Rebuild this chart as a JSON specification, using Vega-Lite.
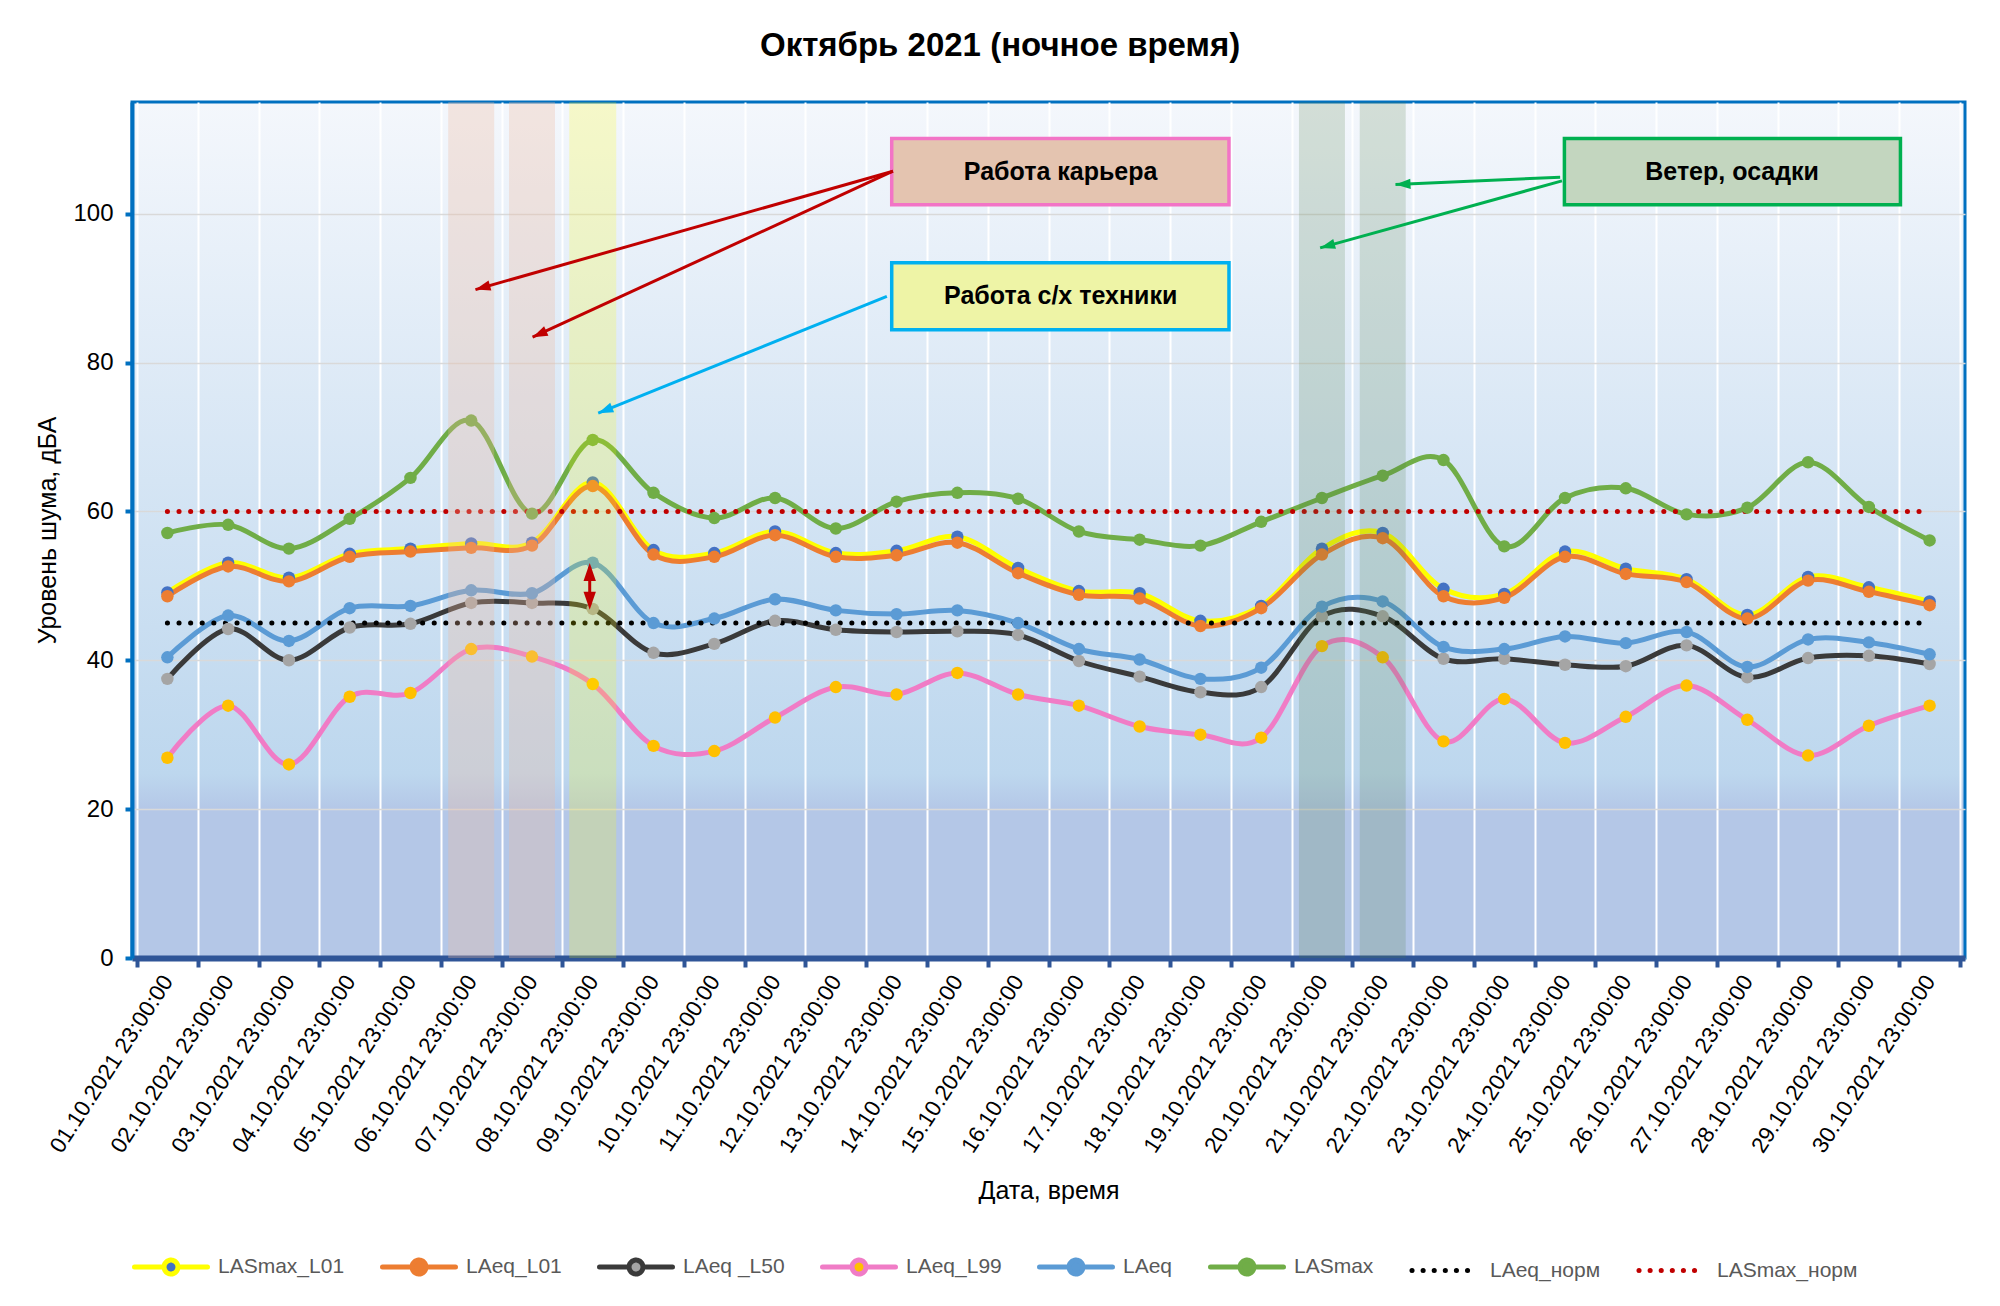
{
  "$schema": "https://vega.github.io/schema/vega-lite/v6.json",
  "width": 1833,
  "height": 856,
  "padding": {"left": 35, "top": 30, "right": 30, "bottom": 10},
  "background": "white",
  "view": {
    "fill": {
      "gradient": "linear", "x1": 0, "y1": 0, "x2": 0, "y2": 1,
      "stops": [
        {"offset": 0, "color": "#F4F7FC"},
        {"offset": 0.785, "color": "#BDD7EE"},
        {"offset": 0.827, "color": "#B4C7E7"},
        {"offset": 1, "color": "#B4C7E7"}
      ]
    },
    "stroke": "#0070C0",
    "strokeWidth": 3
  },
  "config": {
    "font": "Liberation Sans"
  },
  "title": {
    "text": "Октябрь 2021 (ночное время)",
    "fontSize": 33,
    "fontWeight": "bold",
    "color": "#000000",
    "anchor": "middle",
    "frame": "bounds",
    "dx": -18,
    "offset": 39
  },
  "datasets": {
    "levels": [
      {"day": 1, "series": "LASmax_L01", "value": 49.1},
      {"day": 2, "series": "LASmax_L01", "value": 53.1},
      {"day": 3, "series": "LASmax_L01", "value": 51.1},
      {"day": 4, "series": "LASmax_L01", "value": 54.3},
      {"day": 5, "series": "LASmax_L01", "value": 55.0},
      {"day": 6, "series": "LASmax_L01", "value": 55.7},
      {"day": 7, "series": "LASmax_L01", "value": 55.8},
      {"day": 8, "series": "LASmax_L01", "value": 63.9},
      {"day": 9, "series": "LASmax_L01", "value": 54.8},
      {"day": 10, "series": "LASmax_L01", "value": 54.4},
      {"day": 11, "series": "LASmax_L01", "value": 57.3},
      {"day": 12, "series": "LASmax_L01", "value": 54.4},
      {"day": 13, "series": "LASmax_L01", "value": 54.7},
      {"day": 14, "series": "LASmax_L01", "value": 56.6},
      {"day": 15, "series": "LASmax_L01", "value": 52.4},
      {"day": 16, "series": "LASmax_L01", "value": 49.3},
      {"day": 17, "series": "LASmax_L01", "value": 49.0},
      {"day": 18, "series": "LASmax_L01", "value": 45.3},
      {"day": 19, "series": "LASmax_L01", "value": 47.3},
      {"day": 20, "series": "LASmax_L01", "value": 55.0},
      {"day": 21, "series": "LASmax_L01", "value": 57.1},
      {"day": 22, "series": "LASmax_L01", "value": 49.6},
      {"day": 23, "series": "LASmax_L01", "value": 48.9},
      {"day": 24, "series": "LASmax_L01", "value": 54.6},
      {"day": 25, "series": "LASmax_L01", "value": 52.3},
      {"day": 26, "series": "LASmax_L01", "value": 50.9},
      {"day": 27, "series": "LASmax_L01", "value": 46.1},
      {"day": 28, "series": "LASmax_L01", "value": 51.2},
      {"day": 29, "series": "LASmax_L01", "value": 49.8},
      {"day": 30, "series": "LASmax_L01", "value": 47.9},
      {"day": 1, "series": "LAeq_L01", "value": 48.6},
      {"day": 2, "series": "LAeq_L01", "value": 52.6},
      {"day": 3, "series": "LAeq_L01", "value": 50.6},
      {"day": 4, "series": "LAeq_L01", "value": 53.9},
      {"day": 5, "series": "LAeq_L01", "value": 54.6},
      {"day": 6, "series": "LAeq_L01", "value": 55.1},
      {"day": 7, "series": "LAeq_L01", "value": 55.4},
      {"day": 8, "series": "LAeq_L01", "value": 63.4},
      {"day": 9, "series": "LAeq_L01", "value": 54.2},
      {"day": 10, "series": "LAeq_L01", "value": 53.9},
      {"day": 11, "series": "LAeq_L01", "value": 56.8},
      {"day": 12, "series": "LAeq_L01", "value": 53.9},
      {"day": 13, "series": "LAeq_L01", "value": 54.1},
      {"day": 14, "series": "LAeq_L01", "value": 55.8},
      {"day": 15, "series": "LAeq_L01", "value": 51.7},
      {"day": 16, "series": "LAeq_L01", "value": 48.8},
      {"day": 17, "series": "LAeq_L01", "value": 48.3},
      {"day": 18, "series": "LAeq_L01", "value": 44.6},
      {"day": 19, "series": "LAeq_L01", "value": 47.0},
      {"day": 20, "series": "LAeq_L01", "value": 54.2},
      {"day": 21, "series": "LAeq_L01", "value": 56.4},
      {"day": 22, "series": "LAeq_L01", "value": 48.6},
      {"day": 23, "series": "LAeq_L01", "value": 48.4},
      {"day": 24, "series": "LAeq_L01", "value": 53.9},
      {"day": 25, "series": "LAeq_L01", "value": 51.6},
      {"day": 26, "series": "LAeq_L01", "value": 50.5},
      {"day": 27, "series": "LAeq_L01", "value": 45.6},
      {"day": 28, "series": "LAeq_L01", "value": 50.7},
      {"day": 29, "series": "LAeq_L01", "value": 49.2},
      {"day": 30, "series": "LAeq_L01", "value": 47.4},
      {"day": 1, "series": "LAeq _L50", "value": 37.5},
      {"day": 2, "series": "LAeq _L50", "value": 44.2},
      {"day": 3, "series": "LAeq _L50", "value": 40.0},
      {"day": 4, "series": "LAeq _L50", "value": 44.4},
      {"day": 5, "series": "LAeq _L50", "value": 44.9},
      {"day": 6, "series": "LAeq _L50", "value": 47.7},
      {"day": 7, "series": "LAeq _L50", "value": 47.7},
      {"day": 8, "series": "LAeq _L50", "value": 46.9},
      {"day": 9, "series": "LAeq _L50", "value": 41.0},
      {"day": 10, "series": "LAeq _L50", "value": 42.2},
      {"day": 11, "series": "LAeq _L50", "value": 45.3},
      {"day": 12, "series": "LAeq _L50", "value": 44.1},
      {"day": 13, "series": "LAeq _L50", "value": 43.8},
      {"day": 14, "series": "LAeq _L50", "value": 43.9},
      {"day": 15, "series": "LAeq _L50", "value": 43.4},
      {"day": 16, "series": "LAeq _L50", "value": 39.9},
      {"day": 17, "series": "LAeq _L50", "value": 37.8},
      {"day": 18, "series": "LAeq _L50", "value": 35.7},
      {"day": 19, "series": "LAeq _L50", "value": 36.4},
      {"day": 20, "series": "LAeq _L50", "value": 45.9},
      {"day": 21, "series": "LAeq _L50", "value": 45.9},
      {"day": 22, "series": "LAeq _L50", "value": 40.2},
      {"day": 23, "series": "LAeq _L50", "value": 40.2},
      {"day": 24, "series": "LAeq _L50", "value": 39.4},
      {"day": 25, "series": "LAeq _L50", "value": 39.2},
      {"day": 26, "series": "LAeq _L50", "value": 42.0},
      {"day": 27, "series": "LAeq _L50", "value": 37.7},
      {"day": 28, "series": "LAeq _L50", "value": 40.3},
      {"day": 29, "series": "LAeq _L50", "value": 40.6},
      {"day": 30, "series": "LAeq _L50", "value": 39.5},
      {"day": 1, "series": "LAeq_L99", "value": 26.9},
      {"day": 2, "series": "LAeq_L99", "value": 33.9},
      {"day": 3, "series": "LAeq_L99", "value": 26.0},
      {"day": 4, "series": "LAeq_L99", "value": 35.1},
      {"day": 5, "series": "LAeq_L99", "value": 35.6},
      {"day": 6, "series": "LAeq_L99", "value": 41.5},
      {"day": 7, "series": "LAeq_L99", "value": 40.5},
      {"day": 8, "series": "LAeq_L99", "value": 36.8},
      {"day": 9, "series": "LAeq_L99", "value": 28.5},
      {"day": 10, "series": "LAeq_L99", "value": 27.8},
      {"day": 11, "series": "LAeq_L99", "value": 32.3},
      {"day": 12, "series": "LAeq_L99", "value": 36.4},
      {"day": 13, "series": "LAeq_L99", "value": 35.4},
      {"day": 14, "series": "LAeq_L99", "value": 38.3},
      {"day": 15, "series": "LAeq_L99", "value": 35.4},
      {"day": 16, "series": "LAeq_L99", "value": 33.9},
      {"day": 17, "series": "LAeq_L99", "value": 31.1},
      {"day": 18, "series": "LAeq_L99", "value": 30.0},
      {"day": 19, "series": "LAeq_L99", "value": 29.6},
      {"day": 20, "series": "LAeq_L99", "value": 41.9},
      {"day": 21, "series": "LAeq_L99", "value": 40.4},
      {"day": 22, "series": "LAeq_L99", "value": 29.1},
      {"day": 23, "series": "LAeq_L99", "value": 34.8},
      {"day": 24, "series": "LAeq_L99", "value": 28.9},
      {"day": 25, "series": "LAeq_L99", "value": 32.4},
      {"day": 26, "series": "LAeq_L99", "value": 36.6},
      {"day": 27, "series": "LAeq_L99", "value": 32.0},
      {"day": 28, "series": "LAeq_L99", "value": 27.2},
      {"day": 29, "series": "LAeq_L99", "value": 31.2},
      {"day": 30, "series": "LAeq_L99", "value": 33.9},
      {"day": 1, "series": "LAeq", "value": 40.4},
      {"day": 2, "series": "LAeq", "value": 46.0},
      {"day": 3, "series": "LAeq", "value": 42.6},
      {"day": 4, "series": "LAeq", "value": 47.0},
      {"day": 5, "series": "LAeq", "value": 47.3},
      {"day": 6, "series": "LAeq", "value": 49.4},
      {"day": 7, "series": "LAeq", "value": 49.0},
      {"day": 8, "series": "LAeq", "value": 53.1},
      {"day": 9, "series": "LAeq", "value": 45.0},
      {"day": 10, "series": "LAeq", "value": 45.6},
      {"day": 11, "series": "LAeq", "value": 48.2},
      {"day": 12, "series": "LAeq", "value": 46.7},
      {"day": 13, "series": "LAeq", "value": 46.2},
      {"day": 14, "series": "LAeq", "value": 46.7},
      {"day": 15, "series": "LAeq", "value": 45.0},
      {"day": 16, "series": "LAeq", "value": 41.5},
      {"day": 17, "series": "LAeq", "value": 40.1},
      {"day": 18, "series": "LAeq", "value": 37.5},
      {"day": 19, "series": "LAeq", "value": 39.0},
      {"day": 20, "series": "LAeq", "value": 47.2},
      {"day": 21, "series": "LAeq", "value": 47.9},
      {"day": 22, "series": "LAeq", "value": 41.8},
      {"day": 23, "series": "LAeq", "value": 41.5},
      {"day": 24, "series": "LAeq", "value": 43.2},
      {"day": 25, "series": "LAeq", "value": 42.3},
      {"day": 26, "series": "LAeq", "value": 43.8},
      {"day": 27, "series": "LAeq", "value": 39.1},
      {"day": 28, "series": "LAeq", "value": 42.8},
      {"day": 29, "series": "LAeq", "value": 42.4},
      {"day": 30, "series": "LAeq", "value": 40.8},
      {"day": 1, "series": "LASmax", "value": 57.1},
      {"day": 2, "series": "LASmax", "value": 58.2},
      {"day": 3, "series": "LASmax", "value": 55.0},
      {"day": 4, "series": "LASmax", "value": 59.0},
      {"day": 5, "series": "LASmax", "value": 64.5},
      {"day": 6, "series": "LASmax", "value": 72.2},
      {"day": 7, "series": "LASmax", "value": 59.7},
      {"day": 8, "series": "LASmax", "value": 69.6},
      {"day": 9, "series": "LASmax", "value": 62.5},
      {"day": 10, "series": "LASmax", "value": 59.1},
      {"day": 11, "series": "LASmax", "value": 61.8},
      {"day": 12, "series": "LASmax", "value": 57.7},
      {"day": 13, "series": "LASmax", "value": 61.3},
      {"day": 14, "series": "LASmax", "value": 62.5},
      {"day": 15, "series": "LASmax", "value": 61.7},
      {"day": 16, "series": "LASmax", "value": 57.3},
      {"day": 17, "series": "LASmax", "value": 56.2},
      {"day": 18, "series": "LASmax", "value": 55.4},
      {"day": 19, "series": "LASmax", "value": 58.6},
      {"day": 20, "series": "LASmax", "value": 61.8},
      {"day": 21, "series": "LASmax", "value": 64.8},
      {"day": 22, "series": "LASmax", "value": 66.9},
      {"day": 23, "series": "LASmax", "value": 55.3},
      {"day": 24, "series": "LASmax", "value": 61.8},
      {"day": 25, "series": "LASmax", "value": 63.1},
      {"day": 26, "series": "LASmax", "value": 59.6},
      {"day": 27, "series": "LASmax", "value": 60.5},
      {"day": 28, "series": "LASmax", "value": 66.6},
      {"day": 29, "series": "LASmax", "value": 60.6},
      {"day": 30, "series": "LASmax", "value": 56.1}
    ],
    "norms": [
      {"day": 1, "series": "LAeq_норм", "value": 45},
      {"day": 2, "series": "LAeq_норм", "value": 45},
      {"day": 3, "series": "LAeq_норм", "value": 45},
      {"day": 4, "series": "LAeq_норм", "value": 45},
      {"day": 5, "series": "LAeq_норм", "value": 45},
      {"day": 6, "series": "LAeq_норм", "value": 45},
      {"day": 7, "series": "LAeq_норм", "value": 45},
      {"day": 8, "series": "LAeq_норм", "value": 45},
      {"day": 9, "series": "LAeq_норм", "value": 45},
      {"day": 10, "series": "LAeq_норм", "value": 45},
      {"day": 11, "series": "LAeq_норм", "value": 45},
      {"day": 12, "series": "LAeq_норм", "value": 45},
      {"day": 13, "series": "LAeq_норм", "value": 45},
      {"day": 14, "series": "LAeq_норм", "value": 45},
      {"day": 15, "series": "LAeq_норм", "value": 45},
      {"day": 16, "series": "LAeq_норм", "value": 45},
      {"day": 17, "series": "LAeq_норм", "value": 45},
      {"day": 18, "series": "LAeq_норм", "value": 45},
      {"day": 19, "series": "LAeq_норм", "value": 45},
      {"day": 20, "series": "LAeq_норм", "value": 45},
      {"day": 21, "series": "LAeq_норм", "value": 45},
      {"day": 22, "series": "LAeq_норм", "value": 45},
      {"day": 23, "series": "LAeq_норм", "value": 45},
      {"day": 24, "series": "LAeq_норм", "value": 45},
      {"day": 25, "series": "LAeq_норм", "value": 45},
      {"day": 26, "series": "LAeq_норм", "value": 45},
      {"day": 27, "series": "LAeq_норм", "value": 45},
      {"day": 28, "series": "LAeq_норм", "value": 45},
      {"day": 29, "series": "LAeq_норм", "value": 45},
      {"day": 30, "series": "LAeq_норм", "value": 45},
      {"day": 1, "series": "LASmax_норм", "value": 60},
      {"day": 2, "series": "LASmax_норм", "value": 60},
      {"day": 3, "series": "LASmax_норм", "value": 60},
      {"day": 4, "series": "LASmax_норм", "value": 60},
      {"day": 5, "series": "LASmax_норм", "value": 60},
      {"day": 6, "series": "LASmax_норм", "value": 60},
      {"day": 7, "series": "LASmax_норм", "value": 60},
      {"day": 8, "series": "LASmax_норм", "value": 60},
      {"day": 9, "series": "LASmax_норм", "value": 60},
      {"day": 10, "series": "LASmax_норм", "value": 60},
      {"day": 11, "series": "LASmax_норм", "value": 60},
      {"day": 12, "series": "LASmax_норм", "value": 60},
      {"day": 13, "series": "LASmax_норм", "value": 60},
      {"day": 14, "series": "LASmax_норм", "value": 60},
      {"day": 15, "series": "LASmax_норм", "value": 60},
      {"day": 16, "series": "LASmax_норм", "value": 60},
      {"day": 17, "series": "LASmax_норм", "value": 60},
      {"day": 18, "series": "LASmax_норм", "value": 60},
      {"day": 19, "series": "LASmax_норм", "value": 60},
      {"day": 20, "series": "LASmax_норм", "value": 60},
      {"day": 21, "series": "LASmax_норм", "value": 60},
      {"day": 22, "series": "LASmax_норм", "value": 60},
      {"day": 23, "series": "LASmax_норм", "value": 60},
      {"day": 24, "series": "LASmax_норм", "value": 60},
      {"day": 25, "series": "LASmax_норм", "value": 60},
      {"day": 26, "series": "LASmax_норм", "value": 60},
      {"day": 27, "series": "LASmax_норм", "value": 60},
      {"day": 28, "series": "LASmax_норм", "value": 60},
      {"day": 29, "series": "LASmax_норм", "value": 60},
      {"day": 30, "series": "LASmax_норм", "value": 60}
    ]
  },
  "layer": [
    {
      "data": {"name": "levels"},
      "mark": {"type": "line", "interpolate": "cardinal", "strokeWidth": 5, "strokeCap": "round"},
      "encoding": {
        "x": {
          "field": "day", "type": "quantitative",
          "title": "Дата, время",
          "scale": {"domain": [0.5, 30.5], "nice": false, "zero": false},
          "axis": {
            "values": [0.5, 1.5, 2.5, 3.5, 4.5, 5.5, 6.5, 7.5, 8.5, 9.5, 10.5, 11.5, 12.5, 13.5, 14.5, 15.5, 16.5, 17.5, 18.5, 19.5, 20.5, 21.5, 22.5, 23.5, 24.5, 25.5, 26.5, 27.5, 28.5, 29.5, 30.5],
            "labelExpr": "datum.value > 30 ? '' : ((datum.value + 0.5 < 10 ? '0' : '') + (datum.value + 0.5) + '.10.2021 23:00:00')",
            "labelOffset": 30.55,
            "labelLimit": 0,
            "grid": true, "gridColor": "#FFFFFF", "gridWidth": 2,
            "domainColor": "#2F5597", "domainWidth": 6,
            "tickColor": "#2F5597", "tickWidth": 4, "tickSize": 9,
            "labelAngle": -57, "labelAlign": "right", "labelBaseline": "middle",
            "labelFontSize": 22.5, "labelColor": "#000000", "labelPadding": 10,
            "labelOverlap": false, "labelFlush": false, "labelBound": false,
            "titleFontSize": 25, "titleFontWeight": "normal", "titleColor": "#000000", "titlePadding": 22
          }
        },
        "y": {
          "field": "value", "type": "quantitative",
          "title": "Уровень шума, дБА",
          "scale": {"domain": [0, 115], "nice": false},
          "axis": {
            "values": [0, 20, 40, 60, 80, 100],
            "grid": true, "gridColor": "#D9D9D9", "gridWidth": 1.5,
            "domainColor": "#0070C0", "domainWidth": 4,
            "tickColor": "#0070C0", "tickWidth": 4, "tickSize": 7,
            "labelFontSize": 24, "labelColor": "#000000", "labelPadding": 12,
            "titleFontSize": 25, "titleFontWeight": "normal", "titleColor": "#000000", "titlePadding": 12
          }
        },
        "stroke": {
          "field": "series", "type": "nominal",
          "scale": {
            "domain": ["LASmax_L01", "LAeq_L01", "LAeq _L50", "LAeq_L99", "LAeq", "LASmax", "LAeq_норм", "LASmax_норм"],
            "range": ["#FFFF00", "#ED7D31", "#3A3A3A", "#F07CC6", "#5B9BD5", "#70AD47", "#000000", "#C00000"]
          },
          "legend": {
            "orient": "bottom", "direction": "horizontal", "title": null, "offset": 24,
            "labelFontSize": 21, "labelColor": "#595959", "labelOffset": 8, "columnPadding": 27,
            "symbolSize": 5329, "symbolStrokeWidth": 5,
            "encode": {
              "symbols": {
                "update": {
                  "shape": {"signal": "indexof(['LAeq_норм','LASmax_норм'], datum.value) >= 0 ? 'M-0.85,0L0.85,0' : 'M-1,0L-0.19,0M0.19,0L1,0M0.19,0A0.19,0.19,0,1,1,-0.19,0A0.19,0.19,0,1,1,0.19,0'"},
                  "fill": {"signal": "scale('fill', datum.value)"},
                  "strokeDash": {"signal": "indexof(['LAeq_норм','LASmax_норм'], datum.value) >= 0 ? [0.1, 11] : [1, 0]"},
                  "strokeCap": {"value": "round"},
                  "strokeWidth": {"value": 5},
                  "opacity": {"value": 1}
                }
              }
            }
          }
        }
      }
    },
    {
      "data": {"name": "norms"},
      "mark": {"type": "line", "strokeWidth": 5, "strokeCap": "round", "strokeDash": [0.1, 11.5]},
      "encoding": {
        "x": {"field": "day", "type": "quantitative"},
        "y": {"field": "value", "type": "quantitative"},
        "stroke": {"field": "series", "type": "nominal"}
      }
    },
    {
      "data": {"name": "levels"},
      "mark": {"type": "point", "filled": true, "size": 155, "opacity": 1},
      "encoding": {
        "x": {"field": "day", "type": "quantitative"},
        "y": {"field": "value", "type": "quantitative"},
        "fill": {
          "field": "series", "type": "nominal",
          "scale": {
            "domain": ["LASmax_L01", "LAeq_L01", "LAeq _L50", "LAeq_L99", "LAeq", "LASmax", "LAeq_норм", "LASmax_норм"],
            "range": ["#4472C4", "#ED7D31", "#A5A5A5", "#FFC000", "#5B9BD5", "#70AD47", "transparent", "transparent"]
          },
          "legend": null
        }
      }
    },
    {
      "data": {"values": [{"day": 6, "event": "Работа карьера"}, {"day": 7, "event": "Работа карьера"}]},
      "mark": {"type": "bar", "width": 46, "color": "#EEBB9F", "opacity": 0.3},
      "encoding": {
        "x": {"field": "day", "type": "quantitative"},
        "y": {"datum": 115, "type": "quantitative"},
        "y2": {"datum": 0}
      }
    },
    {
      "data": {"values": [{"day": 8, "event": "Работа с/х техники"}]},
      "mark": {"type": "bar", "width": 47, "color": "#FFFF00", "opacity": 0.2},
      "encoding": {
        "x": {"field": "day", "type": "quantitative"},
        "y": {"datum": 115, "type": "quantitative"},
        "y2": {"datum": 0}
      }
    },
    {
      "data": {"values": [{"day": 20, "event": "Ветер, осадки"}, {"day": 21, "event": "Ветер, осадки"}]},
      "mark": {"type": "bar", "width": 46, "color": "#4F7F45", "opacity": 0.2},
      "encoding": {
        "x": {"field": "day", "type": "quantitative"},
        "y": {"datum": 115, "type": "quantitative"},
        "y2": {"datum": 0}
      }
    },
    {
      "data": {"values": [{"x1": 12.92, "x2": 18.47, "y1": 110.1, "y2": 101.2}]},
      "mark": {"type": "rect", "fill": "#E4C4B0", "stroke": "#F274C6", "strokeWidth": 3.5},
      "encoding": {
        "x": {"field": "x1", "type": "quantitative"},
        "x2": {"field": "x2"},
        "y": {"field": "y1", "type": "quantitative"},
        "y2": {"field": "y2"}
      }
    },
    {
      "data": {"values": [{"x1": 12.92, "x2": 18.47, "y1": 93.4, "y2": 84.4}]},
      "mark": {"type": "rect", "fill": "#EEF4A6", "stroke": "#00B0F0", "strokeWidth": 3.5},
      "encoding": {
        "x": {"field": "x1", "type": "quantitative"},
        "x2": {"field": "x2"},
        "y": {"field": "y1", "type": "quantitative"},
        "y2": {"field": "y2"}
      }
    },
    {
      "data": {"values": [{"x1": 23.99, "x2": 29.52, "y1": 110.1, "y2": 101.2}]},
      "mark": {"type": "rect", "fill": "#C3D6BF", "stroke": "#00B050", "strokeWidth": 3.5},
      "encoding": {
        "x": {"field": "x1", "type": "quantitative"},
        "x2": {"field": "x2"},
        "y": {"field": "y1", "type": "quantitative"},
        "y2": {"field": "y2"}
      }
    },
    {
      "data": {"values": [
        {"x": 15.7, "y": 105.65, "label": "Работа карьера"},
        {"x": 15.7, "y": 88.9, "label": "Работа с/х техники"},
        {"x": 26.75, "y": 105.65, "label": "Ветер, осадки"}
      ]},
      "mark": {"type": "text", "fontSize": 25, "fontWeight": "bold", "color": "#000000", "align": "center", "baseline": "middle"},
      "encoding": {
        "x": {"field": "x", "type": "quantitative"},
        "y": {"field": "y", "type": "quantitative"},
        "text": {"field": "label"}
      }
    },
    {
      "data": {"values": [
        {"x1": 12.94, "y1": 105.7, "x2": 6.07, "y2": 89.8},
        {"x1": 12.94, "y1": 105.7, "x2": 7.01, "y2": 83.4},
        {"x1": 7.95, "y1": 52.5, "x2": 7.95, "y2": 47.4}
      ]},
      "mark": {"type": "rule", "color": "#C00000", "strokeWidth": 3},
      "encoding": {
        "x": {"field": "x1", "type": "quantitative"},
        "y": {"field": "y1", "type": "quantitative"},
        "x2": {"field": "x2"},
        "y2": {"field": "y2"}
      }
    },
    {
      "data": {"values": [{"x1": 12.84, "y1": 88.9, "x2": 8.09, "y2": 73.2}]},
      "mark": {"type": "rule", "color": "#00B0F0", "strokeWidth": 3},
      "encoding": {
        "x": {"field": "x1", "type": "quantitative"},
        "y": {"field": "y1", "type": "quantitative"},
        "x2": {"field": "x2"},
        "y2": {"field": "y2"}
      }
    },
    {
      "data": {"values": [
        {"x1": 23.92, "y1": 104.9, "x2": 21.21, "y2": 103.9},
        {"x1": 23.95, "y1": 104.4, "x2": 19.97, "y2": 95.4}
      ]},
      "mark": {"type": "rule", "color": "#00B050", "strokeWidth": 3},
      "encoding": {
        "x": {"field": "x1", "type": "quantitative"},
        "y": {"field": "y1", "type": "quantitative"},
        "x2": {"field": "x2"},
        "y2": {"field": "y2"}
      }
    },
    {
      "data": {"values": [{"x": 6.07, "y": 89.8}]},
      "mark": {"type": "point", "shape": "M0,0L0.55,1.6L-0.55,1.6Z", "filled": true, "color": "#C00000", "opacity": 1, "size": 353, "angle": 254.3},
      "encoding": {
        "x": {"field": "x", "type": "quantitative"},
        "y": {"field": "y", "type": "quantitative"}
      }
    },
    {
      "data": {"values": [{"x": 7.01, "y": 83.4}]},
      "mark": {"type": "point", "shape": "M0,0L0.55,1.6L-0.55,1.6Z", "filled": true, "color": "#C00000", "opacity": 1, "size": 353, "angle": 245.4},
      "encoding": {
        "x": {"field": "x", "type": "quantitative"},
        "y": {"field": "y", "type": "quantitative"}
      }
    },
    {
      "data": {"values": [{"x": 7.95, "y": 53.05}]},
      "mark": {"type": "point", "shape": "M0,0L0.55,1.6L-0.55,1.6Z", "filled": true, "color": "#C00000", "opacity": 1, "size": 506, "angle": 0},
      "encoding": {
        "x": {"field": "x", "type": "quantitative"},
        "y": {"field": "y", "type": "quantitative"}
      }
    },
    {
      "data": {"values": [{"x": 7.95, "y": 46.8}]},
      "mark": {"type": "point", "shape": "M0,0L0.55,1.6L-0.55,1.6Z", "filled": true, "color": "#C00000", "opacity": 1, "size": 506, "angle": 180},
      "encoding": {
        "x": {"field": "x", "type": "quantitative"},
        "y": {"field": "y", "type": "quantitative"}
      }
    },
    {
      "data": {"values": [{"x": 8.09, "y": 73.2}]},
      "mark": {"type": "point", "shape": "M0,0L0.55,1.6L-0.55,1.6Z", "filled": true, "color": "#00B0F0", "opacity": 1, "size": 353, "angle": 248},
      "encoding": {
        "x": {"field": "x", "type": "quantitative"},
        "y": {"field": "y", "type": "quantitative"}
      }
    },
    {
      "data": {"values": [{"x": 21.21, "y": 103.9}]},
      "mark": {"type": "point", "shape": "M0,0L0.55,1.6L-0.55,1.6Z", "filled": true, "color": "#00B050", "opacity": 1, "size": 353, "angle": 267.4},
      "encoding": {
        "x": {"field": "x", "type": "quantitative"},
        "y": {"field": "y", "type": "quantitative"}
      }
    },
    {
      "data": {"values": [{"x": 19.97, "y": 95.4}]},
      "mark": {"type": "point", "shape": "M0,0L0.55,1.6L-0.55,1.6Z", "filled": true, "color": "#00B050", "opacity": 1, "size": 353, "angle": 254.5},
      "encoding": {
        "x": {"field": "x", "type": "quantitative"},
        "y": {"field": "y", "type": "quantitative"}
      }
    }
  ]
}
